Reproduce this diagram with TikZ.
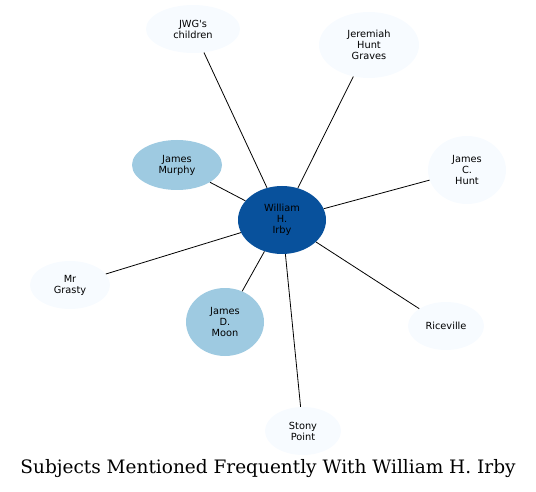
\documentclass[tikz,border=0pt]{standalone}
\usepackage{fontspec}
\setmainfont{DejaVu Serif}
\newfontfamily\nodefont{DejaVu Sans}
\usetikzlibrary{shapes.geometric}
\definecolor{cdark}{HTML}{08519C}
\definecolor{cmid}{HTML}{9ECAE1}
\definecolor{clight}{HTML}{F7FBFF}
\tikzset{
  ent/.style={ellipse, inner sep=0pt, align=center, font=\nodefont\fontsize{9.8}{11}\selectfont, text=black},
  lightent/.style={ent, fill=clight},
  mident/.style={ent, fill=cmid},
  darkent/.style={ent, fill=cdark},
  link/.style={draw=black, line width=0.8pt},
}
\begin{document}
\begin{tikzpicture}[x=1pt,y=-1pt]
\useasboundingbox (0,0) rectangle (536,492);
\node[darkent, minimum width=88pt, minimum height=68pt] (irby) at (282,220) {William\\H.\\Irby};
\node[mident, minimum width=90pt, minimum height=50pt] (murphy) at (177,165) {James\\Murphy};
\node[lightent, minimum width=94pt, minimum height=48pt] (jwg) at (193,29) {JWG's\\children};
\node[lightent, minimum width=100pt, minimum height=66pt] (jhg) at (369,45) {Jeremiah\\Hunt\\Graves};
\node[lightent, minimum width=78pt, minimum height=68pt] (jch) at (467,170) {James\\C.\\Hunt};
\node[lightent, minimum width=80pt, minimum height=48pt] (grasty) at (70,285) {Mr\\Grasty};
\node[mident, minimum width=78pt, minimum height=68pt] (moon) at (225,322) {James\\D.\\Moon};
\node[lightent, minimum width=76pt, minimum height=48pt] (rice) at (446,326) {Riceville};
\node[lightent, minimum width=76pt, minimum height=48pt] (stony) at (303,431) {Stony\\Point};
\node[font=\fontsize{18.5}{20}\selectfont] (title) at (268,469) {Subjects Mentioned Frequently With William H. Irby};
\draw[link] (irby) -- (murphy);
\draw[link] (irby) -- (jwg);
\draw[link] (irby) -- (jhg);
\draw[link] (irby) -- (jch);
\draw[link] (irby) -- (grasty);
\draw[link] (irby) -- (moon);
\draw[link] (irby) -- (rice);
\draw[link] (irby) -- (stony);
\end{tikzpicture}
\end{document}
